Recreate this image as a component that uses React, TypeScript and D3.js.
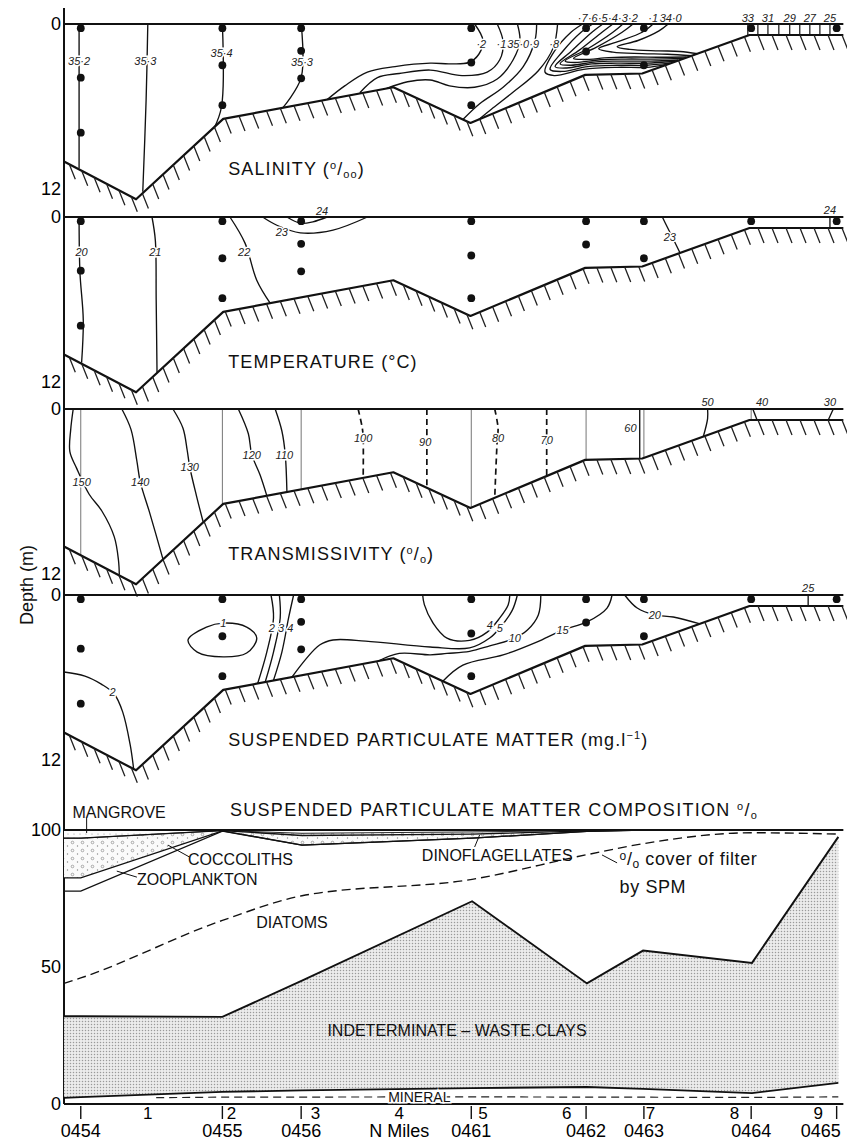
import React from 'react';
import * as d3 from 'd3';

const W = 847;
const H = 1141;
const FONT = "'Liberation Sans', Arial, Helvetica, sans-serif";
const NARROW = "'Liberation Sans Narrow', 'Liberation Sans', Arial, sans-serif";

// stations along the transect (N miles)
const stationNames = ['0454', '0455', '0456', '0461', '0462', '0463', '0464', '0465'];
const stationMiles = [0.2, 1.89, 2.83, 4.86, 6.23, 6.92, 8.2, 9.22];
const mileTicks = [1, 2, 3, 4, 5, 6, 7, 8, 9];
const sampleDepths = [[0.3, 3.9, 7.9], [0.3, 3.0, 5.9], [0.3, 1.95, 3.95], [0.3, 2.8, 5.9], [0.3, 2.0], [0.3, 3.0], [0.3], [0.3]];

// sea bed
const bedMiles = [0, 0.86, 1.9, 3.93, 4.85, 6.22, 6.9, 8.18, 9.3];
const bedDepths = [10, 12.75, 6.9, 4.6, 7.2, 3.7, 3.6, 0.8, 0.8];

type Contour = { v: string; pts: number[][]; at?: number[]; dash?: boolean; closed?: boolean };

const salinityContours: Contour[] = [
  { v: '35·2', pts: [[0.18, 0], [0.18, 10.5]], at: [0.18, 2.7] },
  { v: '35·3', pts: [[1.0, 0], [0.98, 5.5], [0.94, 12.2]], at: [0.97, 2.7] },
  { v: '35·4', pts: [[1.89, 0], [1.88, 6.0], [1.79, 7.6]], at: [1.88, 2.1] },
  { v: '35·3', pts: [[2.83, 0], [2.83, 3.9], [2.61, 6.1]], at: [2.84, 2.8] },
  { v: '·2', pts: [[4.9, 0], [5.0, 1.2], [4.95, 2.2], [4.83, 2.8], [4.6, 2.9], [4.37, 2.85], [3.95, 3.1], [3.62, 3.5], [3.35, 4.5], [3.14, 5.5]], at: [4.98, 1.45] },
  { v: '·1', pts: [[5.17, 0], [5.24, 1.3], [5.2, 2.6], [5.05, 3.5], [4.75, 3.75], [4.37, 3.35], [4.0, 3.6], [3.74, 3.9], [3.53, 5.0]], at: [5.22, 1.45] },
  { v: '35·0', pts: [[5.41, 0], [5.44, 1.2], [5.36, 2.6], [5.17, 4.0], [4.9, 4.6], [4.6, 4.5], [4.37, 4.07], [4.1, 4.2], [3.85, 4.69]], at: [5.42, 1.45] },
  { v: '·9', pts: [[5.64, 0], [5.62, 1.2], [5.48, 3.1], [5.24, 4.6], [4.96, 5.8], [4.76, 6.95]], at: [5.61, 1.45] },
  { v: '·8', pts: [[5.89, 0], [5.84, 1.7], [5.66, 3.4], [5.35, 5.0], [5.1, 6.2], [4.95, 6.94]], at: [5.85, 1.45] },
  { v: '·7', pts: [[6.19, 0], [6.05, 0.6], [5.85, 2.0], [5.74, 3.5], [5.85, 3.75], [6.2, 3.3], [6.6, 3.15], [6.95, 3.15], [7.18, 2.95]], at: [6.19, -0.45] },
  { v: '·6', pts: [[6.31, 0], [6.17, 0.6], [5.95, 2.0], [5.8, 3.3], [5.95, 3.45], [6.25, 3.1], [6.6, 3.0], [6.95, 3.0], [7.23, 2.85]], at: [6.31, -0.45] },
  { v: '·5', pts: [[6.43, 0], [6.3, 0.6], [6.05, 2.0], [5.86, 3.1], [6.0, 3.2], [6.3, 2.9], [6.6, 2.85], [6.95, 2.85], [7.28, 2.73]], at: [6.43, -0.45] },
  { v: '·4', pts: [[6.55, 0], [6.42, 0.6], [6.15, 1.9], [5.92, 2.9], [6.05, 3.0], [6.35, 2.75], [6.6, 2.7], [7.0, 2.7], [7.33, 2.62]], at: [6.55, -0.45] },
  { v: '·3', pts: [[6.67, 0], [6.55, 0.6], [6.25, 1.8], [5.98, 2.7], [6.1, 2.8], [6.4, 2.6], [6.7, 2.55], [7.05, 2.55], [7.38, 2.5]], at: [6.67, -0.45] },
  { v: '·2', pts: [[6.79, 0], [6.66, 0.6], [6.35, 1.7], [6.08, 2.5], [6.2, 2.58], [6.5, 2.45], [6.8, 2.4], [7.1, 2.42], [7.43, 2.4]], at: [6.79, -0.45] },
  { v: '·1', pts: [[7.03, 0], [6.9, 0.6], [6.6, 1.3], [6.38, 1.8], [6.55, 2.05], [6.9, 2.15], [7.2, 2.2], [7.49, 2.3]], at: [7.03, -0.45] },
  { v: '34·0', pts: [[7.21, 0], [7.1, 0.5], [6.85, 1.2], [6.6, 1.65], [6.75, 1.85], [7.1, 1.95], [7.35, 2.0], [7.56, 2.16]], at: [7.24, -0.45] },
];
// river-mouth salinity gradient in the shallows
const riverSalinityMiles = [8.16, 8.28, 8.4, 8.53, 8.66, 8.78, 8.9, 9.02, 9.14];
const riverSalinityValues = ['33', '32', '31', '30', '29', '28', '27', '26', '25'];

const temperatureContours: Contour[] = [
  { v: '20', pts: [[0.18, 0], [0.19, 4.0], [0.23, 7.5], [0.21, 10.6]], at: [0.21, 2.55] },
  { v: '21', pts: [[1.05, 0], [1.09, 1.7], [1.1, 6], [1.11, 11.3]], at: [1.09, 2.55] },
  { v: '22', pts: [[1.98, 0], [2.16, 1.9], [2.3, 4.6], [2.46, 6.27]], at: [2.15, 2.55] },
  { v: '23', pts: [[2.37, 0], [2.54, 0.6], [2.82, 1.15], [3.21, 0.95], [3.62, 0]], at: [2.6, 1.1] },
  { v: '24', pts: [[2.66, 0], [2.82, 0.45], [2.97, 0.35], [3.14, 0]], at: [3.08, -0.45] },
  { v: '23', pts: [[7.14, 0], [7.2, 0.75], [7.27, 1.6], [7.35, 2.6]], at: [7.23, 1.45] },
  { v: '24', pts: [[9.14, 0], [9.14, 0.8]], at: [9.14, -0.5] },
];

const transmissivityContours: Contour[] = [
  { v: '150', pts: [[0.11, 0], [0.08, 1.5], [0.07, 3.1], [0.15, 4.3], [0.3, 6.2], [0.45, 7.4], [0.6, 9.3], [0.65, 11.0], [0.66, 12.05]], at: [0.21, 5.3] },
  { v: '140', pts: [[0.69, 0], [0.8, 1.5], [0.87, 3.8], [0.91, 5.3], [1.02, 7.5], [1.18, 10.9]], at: [0.91, 5.3] },
  { v: '130', pts: [[1.3, 0], [1.42, 1.4], [1.47, 3.0], [1.5, 4.2], [1.58, 6.3], [1.66, 8.2]], at: [1.5, 4.2] },
  { v: '120', pts: [[2.08, 0], [2.2, 1.8], [2.24, 3.3], [2.34, 4.8], [2.42, 6.3]], at: [2.24, 3.35] },
  { v: '110', pts: [[2.52, 0], [2.6, 1.6], [2.64, 3.3], [2.66, 6.0]], at: [2.63, 3.35] },
  { v: '100', pts: [[3.51, 0], [3.56, 1.4], [3.57, 2.1], [3.57, 5.0]], at: [3.57, 2.1], dash: true },
  { v: '90', pts: [[4.33, 0], [4.33, 2.4], [4.33, 5.73]], at: [4.31, 2.4], dash: true },
  { v: '80', pts: [[5.14, 0], [5.18, 1.4], [5.17, 2.2], [5.14, 6.46]], at: [5.18, 2.1], dash: true },
  { v: '70', pts: [[5.76, 0], [5.76, 4.87]], at: [5.76, 2.25], dash: true },
  { v: '60', pts: [[6.87, 0], [6.87, 3.6]], at: [6.76, 1.4] },
  { v: '50', pts: [[7.68, 0], [7.68, 0.7], [7.63, 1.98]], at: [7.68, -0.5] },
  { v: '40', pts: [[8.22, 0], [8.27, 0.8]], at: [8.33, -0.5] },
  { v: '30', pts: [[9.18, 0], [9.12, 0.8]], at: [9.14, -0.5] },
];

const spmContours: Contour[] = [
  { v: '2', pts: [[0, 5.6], [0.25, 5.9], [0.45, 6.5], [0.6, 7.2], [0.7, 8.5], [0.79, 10.9], [0.83, 12.6]], at: [0.58, 7.1] },
  { v: '1', pts: [[1.48, 3.27], [1.7, 2.33], [1.9, 2.04], [2.18, 2.33], [2.3, 3.13], [2.18, 4.22], [1.9, 4.5], [1.59, 4.15]], at: [1.9, 2.04], closed: true },
  { v: '2', pts: [[2.47, 0], [2.5, 1.67], [2.42, 4.15], [2.31, 6.45]], at: [2.48, 2.4] },
  { v: '3', pts: [[2.57, 0], [2.58, 1.67], [2.5, 4.15], [2.4, 6.35]], at: [2.59, 2.4] },
  { v: '4', pts: [[2.74, 0], [2.68, 1.67], [2.6, 4.15], [2.5, 6.2]], at: [2.7, 2.4] },
  { v: '4', pts: [[4.28, 0], [4.3, 0.7], [4.4, 2.0], [4.57, 3.13], [4.84, 3.3], [5.05, 2.7], [5.2, 1.67], [5.3, 0.73], [5.32, 0]], at: [5.08, 2.2] },
  { v: '5', pts: [[2.72, 5.97], [3.05, 3.64], [3.21, 3.27], [3.6, 3.35], [4.37, 3.78], [4.84, 3.85], [5.08, 3.13], [5.2, 2.4], [5.35, 1.1], [5.41, 0]], at: [5.2, 2.4] },
  { v: '10', pts: [[3.75, 4.8], [4.0, 4.25], [4.37, 4.35], [4.57, 4.25], [4.84, 4.1], [5.08, 3.7], [5.38, 3.13], [5.53, 2.55], [5.66, 1.45], [5.69, 0]], at: [5.38, 3.13] },
  { v: '15', pts: [[4.52, 6.27], [4.76, 5.1], [5.24, 4.36], [5.64, 3.42], [5.95, 2.55], [6.24, 1.96], [6.48, 0.95], [6.54, 0]], at: [5.95, 2.55] },
  { v: '20', pts: [[6.69, 0], [6.84, 0.95], [7.05, 1.45], [7.27, 1.6], [7.59, 2.1]], at: [7.05, 1.45] },
  { v: '25', pts: [[8.88, 0], [8.88, 0.8]], at: [8.88, -0.5] },
];

// SPM composition, cumulative % (axis, 0454, 0455, 0456, 0461, 0462, 0463, 0464, 0465)
const compMiles = [0, 0.2, 1.89, 2.84, 4.87, 6.24, 6.91, 8.21, 9.24];
const mineralTop = [2.2, 2.5, 4.4, 5.0, 5.8, 6.2, 5.5, 4.0, 7.7];
const indeterminateTop = [32, 32, 31.8, 45, 74, 44, 56, 51.5, 97.5];
const diatomTop = [77.7, 77.7, 99.6, 94.5, 97, 99.5, 100, 100, 100];
const zooplanktonTop = [82.5, 82.5, 99.7, 94.5, 97, 99.5, 100, 100, 100];
const coccolithTop = [97, 97, 99.8, 98, 98.5, 99.7, 100, 100, 100];
const dinoflagellateTop = [97, 97, 99.8, 98.8, 99.3, 99.8, 100, 100, 100];
const filterCover = [44, 46, 67, 76, 82, 91, 95, 99, 98.5];
const mineralDashMiles = [1.1, 1.89, 4.87, 8.21, 9.24];
const mineralDashPct = [2.3, 2.5, 2.6, 2.4, 2.6];

const x = d3.scaleLinear().domain([0, 9.26]).range([64, 840]);
const pct = d3.scaleLinear().domain([0, 100]).range([1104, 830]);
const bedAt = d3.scaleLinear().domain(bedMiles).range(bedDepths);

function hatchPath(pts: number[][]) {
  let d = '';
  let carry = 6;
  for (let i = 0; i < pts.length - 1; i++) {
    const [x0, y0] = pts[i];
    const [x1, y1] = pts[i + 1];
    const len = Math.hypot(x1 - x0, y1 - y0);
    let s = carry;
    while (s < len) {
      const t = s / len;
      d += `M${(x0 + (x1 - x0) * t).toFixed(1)},${(y0 + (y1 - y0) * t).toFixed(1)}l6,15`;
      s += 14;
    }
    carry = s - len;
  }
  return d;
}

const halo = { stroke: '#fff', strokeWidth: 3, paintOrder: 'stroke' as const };

function DepthPanel({ top, title, contours, dots, stationLines, extra }: any) {
  const y = d3.scaleLinear().domain([0, 12]).range([top, top + 165]);
  const smooth = d3.line<number[]>().x(d => x(d[0])).y(d => y(d[1])).curve(d3.curveCatmullRom.alpha(0.5));
  const closedLine = d3.line<number[]>().x(d => x(d[0])).y(d => y(d[1])).curve(d3.curveCatmullRomClosed.alpha(0.5));
  const bedPts = bedMiles.map((m, i) => [x(m), y(bedDepths[i])]);
  const bedLine = d3.line()(bedPts as [number, number][]) || '';
  return (
    <g>
      {stationLines && stationMiles.slice(0, 7).map((m, i) => (
        <line key={'sl' + i} x1={x(m)} x2={x(m)} y1={y(0)} y2={y(bedAt(m))} stroke="#666" strokeWidth={0.9} />
      ))}
      {extra && extra(y)}
      {contours.map((c: Contour, i: number) => (
        <path key={'c' + i} d={(c.closed ? closedLine : smooth)(c.pts) || ''} fill="none" stroke="#111" strokeWidth={c.dash ? 1.7 : 1.35} strokeDasharray={c.dash ? '6 4' : undefined} />
      ))}
      {contours.filter((c: Contour) => c.at).map((c: Contour, i: number) => (
        <text key={'l' + i} x={x(c.at![0])} y={y(c.at![1])} dy="0.35em" textAnchor="middle" fontFamily={NARROW} fontStyle="italic" fontSize={11} fill="#222" {...(c.at![1] > 0 ? halo : {})}>{c.v}</text>
      ))}
      <line x1={x(0)} x2={x(9.3)} y1={y(0)} y2={y(0)} stroke="#111" strokeWidth={1.8} />
      <path d={bedLine} fill="none" stroke="#111" strokeWidth={2.2} strokeLinejoin="round" />
      <path d={hatchPath(bedPts)} stroke="#222" strokeWidth={1.3} fill="none" />
      {dots && stationMiles.map((m, i) => sampleDepths[i].map((dp, j) => (
        <circle key={`d${i}-${j}`} cx={x(m)} cy={y(dp)} r={3.9} fill="#111" />
      )))}
      <text x={61} y={y(0)} dy="0.35em" textAnchor="end" fontSize={18}>0</text>
      <text x={61} y={y(12)} dy="0.35em" textAnchor="end" fontSize={18}>12</text>
      <text x={x(1.96)} y={y(11)} fontSize={18} letterSpacing={1.1} fill="#111">{title}</text>
    </g>
  );
}

function CompositionPanel() {
  const area = (lo: number[], hi: number[] | null) =>
    d3.area<number>().x((m) => x(m)).y0((_, i) => pct(lo[i])).y1((_, i) => pct(hi ? hi[i] : 100))(compMiles) || '';
  const ln = (vals: number[]) => d3.line<number>().x((m) => x(m)).y((_, i) => pct(vals[i]))(compMiles) || '';
  const dashLn = d3.line<number>().x((m) => x(m)).y((_, i) => pct(mineralDashPct[i]))(mineralDashMiles) || '';
  const coverLn = d3.line<number>().x((m) => x(m)).y((_, i) => pct(filterCover[i])).curve(d3.curveMonotoneX)(compMiles) || '';
  const lbl = { fontSize: 16, fill: '#111' };
  return (
    <g>
      <path d={area(mineralTop, indeterminateTop)} fill="url(#stipple)" />
      <path d={area(zooplanktonTop, coccolithTop)} fill="url(#cocco)" />
      <path d={area(coccolithTop, dinoflagellateTop)} fill="url(#cocco)" />
      <path d={area(dinoflagellateTop, null)} fill="url(#fine)" />
      <path d={dashLn} fill="none" stroke="#222" strokeWidth={1.2} strokeDasharray="8 5" />
      <path d={ln(mineralTop)} fill="none" stroke="#111" strokeWidth={1.8} />
      <path d={ln(indeterminateTop)} fill="none" stroke="#111" strokeWidth={1.9} />
      <path d={ln(diatomTop)} fill="none" stroke="#111" strokeWidth={1.3} />
      <path d={ln(zooplanktonTop)} fill="none" stroke="#111" strokeWidth={1.3} />
      <path d={ln(coccolithTop)} fill="none" stroke="#111" strokeWidth={1.3} />
      <path d={ln(dinoflagellateTop)} fill="none" stroke="#111" strokeWidth={0.9} />
      <path d={coverLn} fill="none" stroke="#111" strokeWidth={1.4} strokeDasharray="9 5" />
      <line x1={x(0)} x2={x(9.3)} y1={pct(100)} y2={pct(100)} stroke="#111" strokeWidth={2.2} />
      <line x1={x(0)} x2={x(9.3)} y1={pct(0)} y2={pct(0)} stroke="#111" strokeWidth={2.2} />
      {[0, 50, 100].map(v => (
        <text key={v} x={61} y={pct(v)} dy="0.35em" textAnchor="end" fontSize={18}>{v}</text>
      ))}

      <text x={x(1.98)} y={pct(107.3)} dy="0.35em" fontSize={18} letterSpacing={1.3} fill="#111">
        SUSPENDED PARTICULATE MATTER COMPOSITION <tspan fontSize={11} dy={-6}>o</tspan><tspan dy={6}>/</tspan><tspan fontSize={11} dy={3}>o</tspan>
      </text>
      <text x={x(0.1)} y={pct(106.5)} dy="0.35em" {...lbl}>MANGROVE</text>
      <line x1={x(0.27)} x2={x(0.27)} y1={pct(104.4)} y2={pct(98.9)} stroke="#111" strokeWidth={1} />
      <line x1={x(1.24)} x2={x(1.5)} y1={pct(94.5)} y2={pct(90.1)} stroke="#111" strokeWidth={1} />
      <text x={x(1.48)} y={pct(89.4)} dy="0.35em" {...lbl}>COCCOLITHS</text>
      <line x1={x(0.63)} x2={x(0.87)} y1={pct(85.0)} y2={pct(82.8)} stroke="#111" strokeWidth={1} />
      <text x={x(0.87)} y={pct(81.8)} dy="0.35em" {...lbl}>ZOOPLANKTON</text>
      <text x={x(2.72)} y={pct(66.4)} dy="0.35em" textAnchor="middle" {...lbl}>DIATOMS</text>
      <line x1={x(4.9)} x2={x(4.96)} y1={pct(93.8)} y2={pct(98.2)} stroke="#111" strokeWidth={1} />
      <text x={x(4.27)} y={pct(90.9)} dy="0.35em" {...lbl}>DINOFLAGELLATES</text>
      <line x1={x(6.42)} x2={x(6.6)} y1={pct(90.9)} y2={pct(88)} stroke="#111" strokeWidth={1} />
      <text x={x(6.63)} y={pct(87.2)} dy="0.35em" fontSize={18} letterSpacing={0.6} fill="#111">
        <tspan fontSize={12} dy={-5}>o</tspan><tspan dy={5}>/</tspan><tspan fontSize={12} dy={3}>o</tspan><tspan dy={-3}> cover of filter</tspan>
      </text>
      <text x={x(6.63)} y={pct(79.2)} dy="0.35em" fontSize={18} letterSpacing={0.6} fill="#111">by SPM</text>
      <text x={x(4.69)} y={pct(27)} dy="0.35em" textAnchor="middle" {...lbl}>INDETERMINATE – WASTE.CLAYS</text>
      <text x={x(4.24)} y={pct(2.55)} dy="0.35em" textAnchor="middle" fontSize={14} fill="#111" {...halo}>MINERAL</text>

      {stationMiles.map((m, i) => (
        <g key={'st' + i}>
          <line x1={x(m)} x2={x(m)} y1={pct(0) + 2} y2={pct(0) + 15} stroke="#111" strokeWidth={1.4} />
          <text x={i === 7 ? x(9.27) : x(m)} y={1131} dy="0.35em" textAnchor={i === 7 ? 'end' : 'middle'} fontSize={18}>{stationNames[i]}</text>
        </g>
      ))}
      {mileTicks.map(m => (
        <text key={'m' + m} x={x(m)} y={1113} dy="0.35em" textAnchor="middle" fontSize={17}>{m}</text>
      ))}
      <text x={x(4.0)} y={1131} dy="0.35em" textAnchor="middle" fontSize={18}>N Miles</text>
    </g>
  );
}

export default function App() {
  const riverLines = (y: any) => (
    <g>
      {riverSalinityMiles.map((m, i) => (
        <g key={'r' + i}>
          <line x1={x(m)} x2={x(m)} y1={y(0)} y2={y(0.8)} stroke="#111" strokeWidth={1.2} />
          {i % 2 === 0 && (
            <text x={x(m)} y={y(-0.45)} dy="0.35em" textAnchor="middle" fontFamily={NARROW} fontStyle="italic" fontSize={11} fill="#222">{riverSalinityValues[i]}</text>
          )}
        </g>
      ))}
    </g>
  );
  return (
    <svg width={W} height={H} viewBox={`0 0 ${W} ${H}`} style={{ position: 'absolute', left: 0, top: 0, background: '#fff' }} fontFamily={FONT}>
      <defs>
        <pattern id="stipple" width={3} height={3} patternUnits="userSpaceOnUse">
          <rect width={3} height={3} fill="#ececec" />
          <circle cx={1.5} cy={1.5} r={0.75} fill="#9a9a9a" />
        </pattern>
        <pattern id="cocco" width={10} height={8} patternUnits="userSpaceOnUse">
          <rect width={10} height={8} fill="#fafafa" />
          <circle cx={2.5} cy={2.5} r={1.3} fill="none" stroke="#888" strokeWidth={0.7} />
          <circle cx={7.5} cy={6} r={0.7} fill="#888" />
        </pattern>
        <pattern id="fine" width={6} height={4} patternUnits="userSpaceOnUse">
          <rect width={6} height={4} fill="#fcfcfc" />
          <circle cx={2} cy={2} r={0.6} fill="#999" />
        </pattern>
      </defs>
      <rect width={W} height={H} fill="#fff" />
      <line x1={x(0)} x2={x(0)} y1={8} y2={pct(0)} stroke="#111" strokeWidth={2} />

      <DepthPanel top={24} contours={salinityContours} dots stationLines={false} extra={riverLines}
        title={<>SALINITY (<tspan fontSize={11} dy={-6}>o</tspan><tspan dy={6}>/</tspan><tspan fontSize={11} dy={3}>oo</tspan><tspan dy={-3}>)</tspan></>} />
      <DepthPanel top={217} contours={temperatureContours} dots stationLines={false}
        title={<>TEMPERATURE (°C)</>} />
      <DepthPanel top={409} contours={transmissivityContours} dots={false} stationLines
        title={<>TRANSMISSIVITY (<tspan fontSize={11} dy={-6}>o</tspan><tspan dy={6}>/</tspan><tspan fontSize={11} dy={3}>o</tspan><tspan dy={-3}>)</tspan></>} />
      <DepthPanel top={595} contours={spmContours} dots stationLines={false}
        title={<>SUSPENDED PARTICULATE MATTER (mg.l<tspan fontSize={11} dy={-7}>−1</tspan><tspan dy={7}>)</tspan></>} />

      <CompositionPanel />

      <text transform="translate(27,585) rotate(-90)" textAnchor="middle" dy="0.35em" fontSize={18} fill="#111">Depth (m)</text>
    </svg>
  );
}
